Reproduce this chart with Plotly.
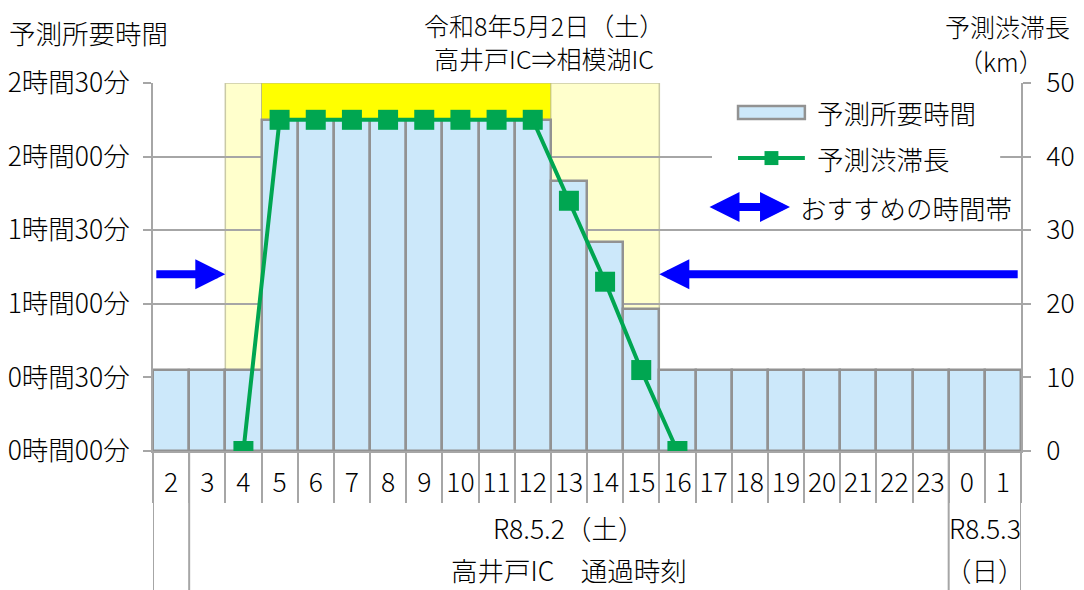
import plotly.graph_objects as go

# hours (IC passing time), 2:00 on 5/2 through 1:00 on 5/3
hours = ["2", "3", "4", "5", "6", "7", "8", "9", "10", "11", "12", "13", "14", "15",
         "16", "17", "18", "19", "20", "21", "22", "23", "0", "1"]

# predicted travel time (minutes)
travel_min = [33, 33, 33, 135, 135, 135, 135, 135, 135, 135, 135, 110, 85, 58,
              33, 33, 33, 33, 33, 33, 33, 33, 33, 33]

# predicted congestion length (km)
jam_km = [None, None, 0, 45, 45, 45, 45, 45, 45, 45, 45, 34, 23, 11,
          0, None, None, None, None, None, None, None, None, None]

time_ticks = ["0時間00分", "0時間30分", "1時間00分", "1時間30分", "2時間00分", "2時間30分"]
time_tickvals = [0, 30, 60, 90, 120, 150]

# date groups under the hour labels: first hour of each group and its label lines
group_first_hour = ["2", "3", "0"]
group_labels = [("", ""), ("R8.5.2（土）", "高井戸IC　通過時刻"), ("R8.5.3", "（日）")]

# shaded periods and recommended periods
congested_span = ("4", "15")
peak_span = ("5", "12")
recommend_until = "3"
recommend_from = "16"
arrow_km = 24

GRID = "#A6A6A6"
BAR_FILL = "#CCE8FA"
BAR_LINE = "#929292"
GREEN = "#00A651"
BLUE = "#0000FF"
FONT = "Noto Sans CJK JP"
FS = 26.5

idx = {h: i for i, h in enumerate(hours)}
x = list(range(len(hours)))

fig = go.Figure()
fig.add_trace(go.Bar(
    x=x, y=travel_min, name="予測所要時間",
    marker=dict(color=BAR_FILL, line=dict(color=BAR_LINE, width=2.5)),
    showlegend=False,
))
fig.add_trace(go.Scatter(
    x=x, y=jam_km, name="予測渋滞長", yaxis="y2", mode="lines+markers",
    line=dict(color=GREEN, width=4), marker=dict(symbol="square", size=20, color=GREEN),
    connectgaps=False, showlegend=False,
))

# yellow background periods
fig.add_shape(type="rect", layer="below", xref="x", yref="y",
              x0=idx[congested_span[0]] - 0.5, x1=idx[congested_span[1]] + 0.5, y0=0, y1=150,
              fillcolor="#FFFFCC", line=dict(color="#C9C9A6", width=1.5))
fig.add_shape(type="rect", layer="below", xref="x", yref="y",
              x0=idx[peak_span[0]] - 0.5, x1=idx[peak_span[1]] + 0.5, y0=0, y1=150,
              fillcolor="#FFFF00", line=dict(color="#BDBD80", width=1))

# recommended-time arrows
fig.add_annotation(x=idx[recommend_until] + 0.5, y=arrow_km, ax=-0.45, ay=arrow_km,
                   xref="x", yref="y2", axref="x", ayref="y2", text="", showarrow=True,
                   arrowhead=2, arrowsize=0.75, arrowwidth=8, arrowcolor=BLUE)
fig.add_annotation(x=idx[recommend_from] - 0.5, y=arrow_km, ax=len(hours) - 0.55, ay=arrow_km,
                   xref="x", yref="y2", axref="x", ayref="y2", text="", showarrow=True,
                   arrowhead=2, arrowsize=0.75, arrowwidth=8, arrowcolor=BLUE)

# group dividers and labels below the axis
bounds = [idx[h] - 0.5 for h in group_first_hour] + [len(hours) - 0.5]
for b in bounds:
    fig.add_shape(type="line", xref="x", yref="paper", x0=b, x1=b, y0=0, y1=-0.4,
                  line=dict(color=GRID, width=2))
for k, (l1, l2) in enumerate(group_labels):
    cx = (bounds[k] + bounds[k + 1]) / 2
    for txt, yy in ((l1, -0.207), (l2, -0.323)):
        if txt:
            fig.add_annotation(x=cx, y=yy, xref="x", yref="paper", text=txt, showarrow=False,
                               xanchor="center", yanchor="middle")

# titles
for txt, tx, ty, fs in (("令和8年5月2日（土）<br>高井戸IC⇒相模湖IC", 0.4505, 1.114, 25),
                        ("予測所要時間", -0.074, 1.136, FS),
                        ("予測渋滞長", 0.9839, 1.154, 25),
                        ("（km）", 0.9769, 1.060, 25)):
    fig.add_annotation(x=tx, y=ty, xref="paper", yref="paper", text=txt, showarrow=False,
                       xanchor="center", yanchor="middle", font=dict(size=fs))

# legend box
fig.add_shape(type="rect", xref="paper", yref="paper", x0=0.644, x1=0.976, y0=0.606, y1=0.975,
              fillcolor="white", line=dict(width=0), layer="above")
fig.add_shape(type="rect", xref="paper", yref="paper", x0=0.674, x1=0.751, y0=0.902, y1=0.9375,
              fillcolor=BAR_FILL, line=dict(color=BAR_LINE, width=2.5), layer="above")
fig.add_shape(type="line", xref="paper", yref="paper", x0=0.674, x1=0.751, y0=0.796, y1=0.796,
              line=dict(color=GREEN, width=4), layer="above")
fig.add_shape(type="rect", xref="paper", yref="paper", x0=0.7045, x1=0.7205, y0=0.777, y1=0.815,
              fillcolor=GREEN, line=dict(width=0), layer="above")
fig.add_annotation(x=0.7339, y=0.663, xref="paper", yref="paper", ax=-82, ay=0, text="",
                   showarrow=True, arrowhead=2, startarrowhead=2, arrowside="end+start",
                   arrowsize=0.75, startarrowsize=0.75, arrowwidth=8, arrowcolor=BLUE)
for txt, lx, ly in (("予測所要時間", 0.7627, 0.9185), ("予測渋滞長", 0.7627, 0.796),
                    ("おすすめの時間帯", 0.7431, 0.663)):
    fig.add_annotation(x=lx, y=ly, xref="paper", yref="paper", text=txt, showarrow=False,
                       xanchor="left", yanchor="middle")

fig.update_layout(
    width=1076, height=582,
    margin=dict(l=145, r=63, t=75, b=139),
    font=dict(family=FONT, size=FS, color="#000000", weight=300),
    plot_bgcolor="white", paper_bgcolor="white",
    bargap=0, showlegend=False,
    xaxis=dict(range=[-0.5, len(hours) - 0.5], tickmode="array", tickvals=x, ticktext=hours,
               ticks="", ticklabelstandoff=7, showgrid=False, zeroline=False, automargin=False,
               showline=True, linecolor=GRID, linewidth=2,
               minor=dict(tickmode="array", tickvals=[i - 0.5 for i in range(len(hours) + 1)],
                          ticks="outside", ticklen=50, tickcolor=GRID, tickwidth=2, showgrid=False)),
    yaxis=dict(range=[0, 150], tickmode="array", tickvals=time_tickvals, ticktext=time_ticks,
               ticks="outside", ticklen=8, tickcolor=GRID, tickwidth=2, ticklabelstandoff=8,
               showgrid=True, gridcolor=GRID, gridwidth=2, zeroline=False, automargin=False,
               showline=True, linecolor=GRID, linewidth=2),
    yaxis2=dict(range=[0, 50], dtick=10, overlaying="y", side="right", automargin=False,
                ticks="outside", ticklen=8, tickcolor=GRID, tickwidth=2, ticklabelstandoff=10,
                showgrid=False, zeroline=False, showline=True, linecolor=GRID, linewidth=2),
)

fig.write_html("out.html")
